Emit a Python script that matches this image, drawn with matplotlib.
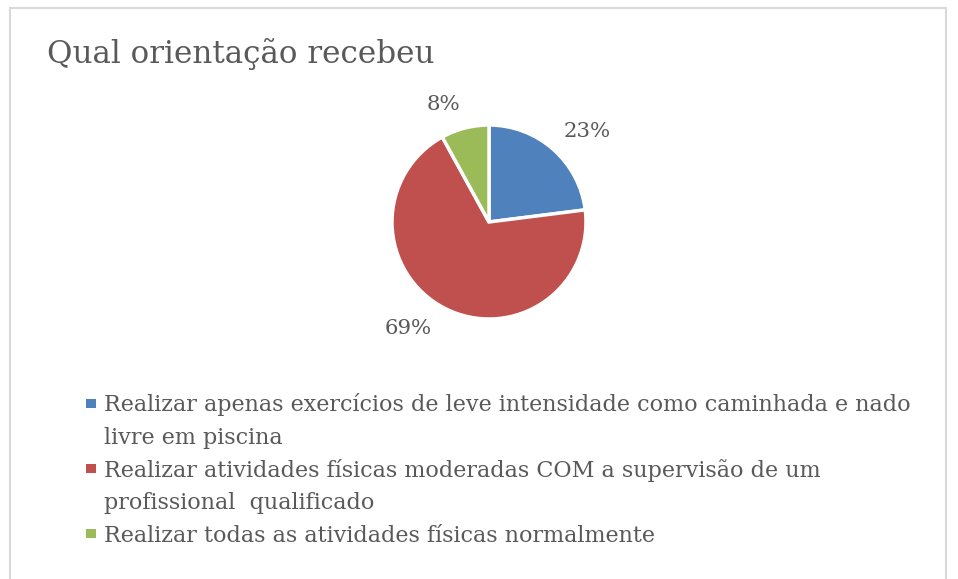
import numpy as np
import matplotlib.pyplot as plt
from matplotlib.patches import Rectangle

title = "Qual orientação recebeu"
labels = [
    "Realizar apenas exercícios de leve intensidade como caminhada e nado\nlivre em piscina",
    "Realizar atividades físicas moderadas COM a supervisão de um\nprofissional  qualificado",
    "Realizar todas as atividades físicas normalmente",
]
values = [23, 69, 8]
colors = ["#4F81BD", "#C0504D", "#9BBB59"]
text_color = "#595959"

W, H = 958, 579
fig = plt.figure(figsize=(W / 100, H / 100), dpi=100)

# chart frame (bottom edge falls outside the picture)
fig.patches.append(Rectangle((9.5 / W, -0.05), (945.5 - 9.5) / W, 1.05 - 7.5 / H,
                             transform=fig.transFigure, fill=False,
                             edgecolor="#d9d9d9", linewidth=1.5))

fig.text(47 / W, 1 - 63 / H, title, fontsize=22.3, family="DejaVu Serif",
         color=text_color, va="baseline", ha="left")

# pie
cx, cy, r = 489, 222, 97
ax = fig.add_axes([(cx - r) / W, 1 - (cy + r) / H, 2 * r / W, 2 * r / H])
wedges, _, pct = ax.pie(values, colors=colors, startangle=90, counterclock=False,
                        autopct="%1.0f%%", pctdistance=1.37,
                        wedgeprops=dict(edgecolor="white", linewidth=2.5),
                        textprops=dict(fontsize=15.3, family="DejaVu Serif", color=text_color))
# best-fit style nudges of the data labels (degrees, counter-clockwise), same order as values
nudge_deg = [-6, -10, 7]
dist = [1.38, 1.38, 1.30]
frac = np.array(values) / sum(values)
mid = 90 - 360 * (np.cumsum(frac) - frac / 2)
for t, m, nd, d in zip(pct, mid, nudge_deg, dist):
    a = np.deg2rad(m + nd)
    t.set_position((d * np.cos(a), d * np.sin(a)))
ax.set_xlim(-1, 1)
ax.set_ylim(-1, 1)
ax.set_aspect("equal")

# legend
y = 403
step = 32.5
for lab, col in zip(labels, colors):
    fig.patches.append(Rectangle((86 / W, 1 - (y + 4.5) / H), 10 / W, 9 / H,
                                 transform=fig.transFigure, facecolor=col, edgecolor="none"))
    for line in lab.split("\n"):
        fig.text(104 / W, 1 - (y + 8.5) / H, line, fontsize=16, family="DejaVu Serif",
                 color=text_color, va="baseline", ha="left")
        y += step

fig.savefig("out.png", dpi=100)
